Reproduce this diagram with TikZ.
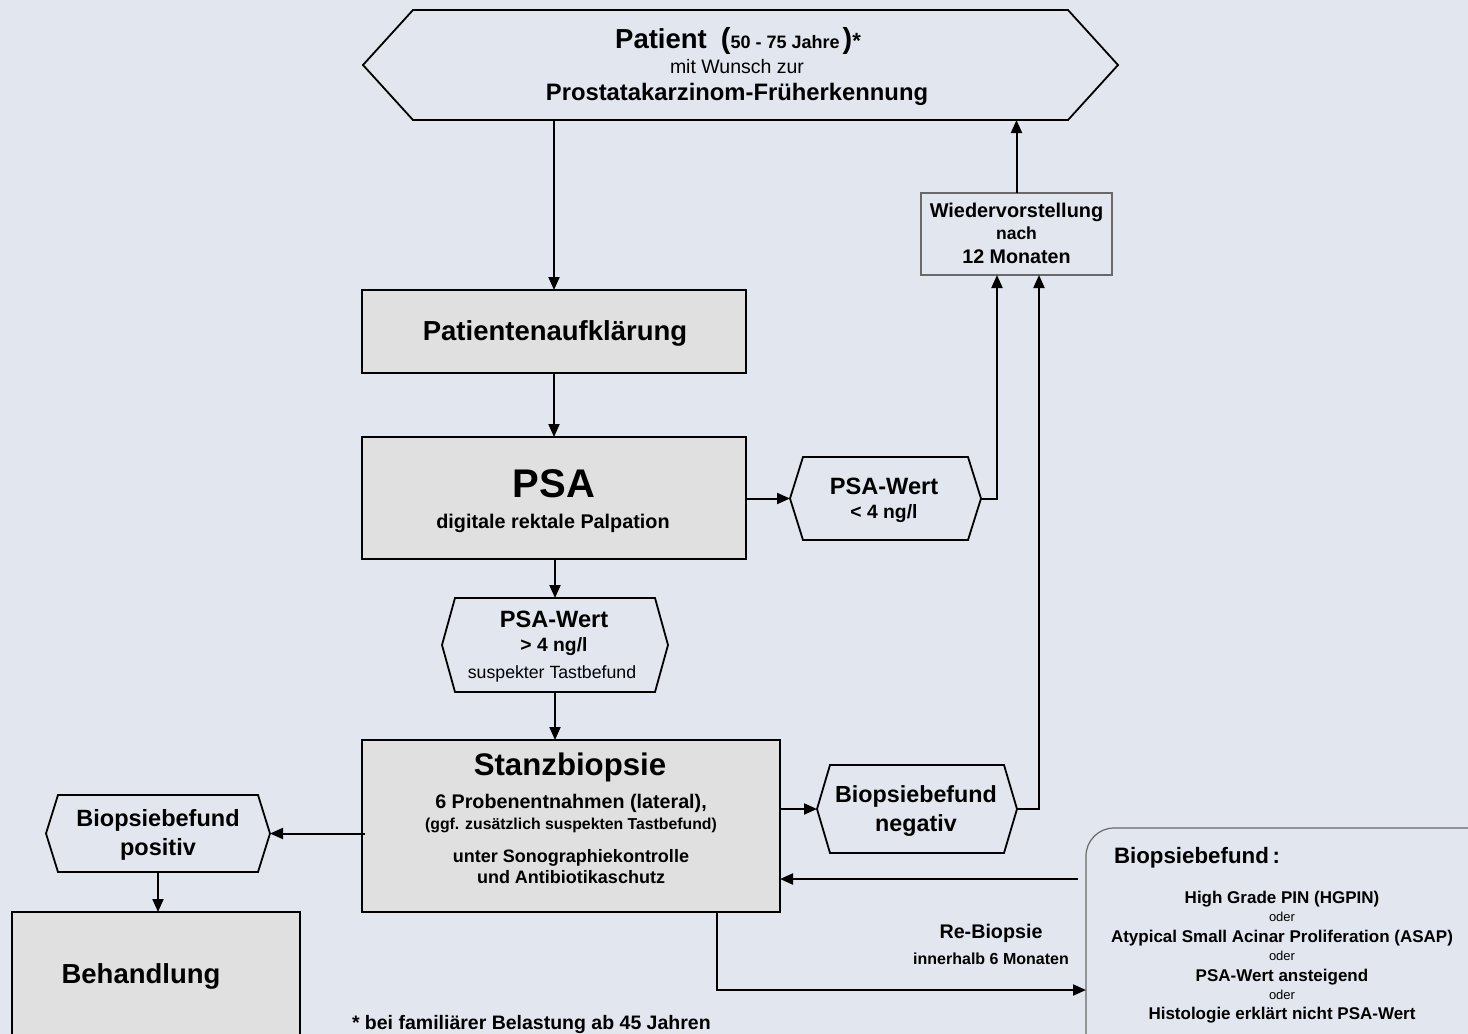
\documentclass[tikz,border=0pt]{standalone}
\usepackage{fontspec}
\setmainfont{Liberation Sans}
\usetikzlibrary{arrows.meta,calc}
\definecolor{bg}{RGB}{225,230,239}
\definecolor{boxfill}{RGB}{224,224,224}
\definecolor{frame}{RGB}{105,105,105}
\newcommand{\bsz}[1]{\fontsize{#1}{#1}\selectfont\bfseries}
\newcommand{\rsz}[1]{\fontsize{#1}{#1}\selectfont\mdseries}
\newcommand{\hexdraw}[2]{\draw[hexline] (#1.north west) -- (#1.north east) -- ([xshift=#2]#1.east) -- (#1.south east) -- (#1.south west) -- ([xshift=-#2]#1.west) -- cycle;}
\begin{document}
\begin{tikzpicture}[x=1pt,y=-1pt,
  gbox/.style={draw=black,line width=2pt,fill=boxfill,inner sep=0,outer sep=0},
  hexcore/.style={inner sep=0,outer sep=0},
  hexline/.style={draw=black,line width=1.8pt,line join=miter},
  arr/.style={draw=black,line width=2pt,-{Triangle[length=13pt,width=11pt]}},
  txt/.style={inner sep=0,outer sep=0,anchor=base,text=black},
]
\fill[bg] (0,0) rectangle (1468,1034);
\useasboundingbox (0,0) rectangle (1468,1034);

% shapes
\node[hexcore,minimum width=655,minimum height=110] (pat) at (740.5,65) {};
\hexdraw{pat}{50}
\node[gbox,minimum width=384,minimum height=83] (auf) at (554,331.5) {};
\node[gbox,minimum width=384,minimum height=122] (psa) at (554,498) {};
\node[hexcore,minimum width=165,minimum height=83] (lt) at (885.5,498.5) {};
\hexdraw{lt}{13}
\node[draw=frame,line width=1.3pt,inner sep=0,outer sep=0,minimum width=191,minimum height=82] (wv) at (1016.5,234) {};
\node[hexcore,minimum width=200,minimum height=94] (gt) at (555,645) {};
\hexdraw{gt}{13}
\node[gbox,minimum width=418,minimum height=172] (sb) at (571,826) {};
\node[hexcore,minimum width=174,minimum height=88] (neg) at (917,809) {};
\hexdraw{neg}{13}
\node[hexcore,minimum width=200,minimum height=77] (pos) at (158,833.5) {};
\hexdraw{pos}{12}
\node[gbox,minimum width=288,minimum height=150,anchor=north west] (beh) at (12,912) {};
\node[draw=frame,line width=1.2pt,rounded corners=28pt,inner sep=0,outer sep=0,minimum width=430,minimum height=250,anchor=north west] (rb) at (1086,828) {};

% texts
\node[txt] (pat1) at (738,48) {\bsz{27.5}Patient\hspace{14pt}\bsz{29}(\bsz{18}50 - 75 Jahre\hspace{3pt}\bsz{29})\bsz{22}*};
\node[txt] (pat2) at (737,73) {\rsz{19.5}mit Wunsch zur};
\node[txt] (pat3) at (737,100) {\bsz{23.8}Prostatakarzinom-Früherkennung};
\node[txt] (auft) at (555,340) {\bsz{27.5}Patientenaufklärung};
\node[txt] (psa1) at (554,497) {\bsz{40}PSA};
\node[txt] (psa2) at (553,528) {\bsz{19.8}digitale rektale Palpation};
\node[txt] (lt1) at (884,494) {\bsz{23.6}PSA-Wert};
\node[txt] (lt2) at (884,518) {\bsz{19.3}< 4 ng/l};
\node[txt] (wv1) at (1016.5,217) {\bsz{19.9}Wiedervorstellung};
\node[txt] (wv2) at (1016.5,239) {\bsz{17.5}nach};
\node[txt] (wv3) at (1016.5,263) {\bsz{19.7}12 Monaten};
\node[txt] (gt1) at (554,627) {\bsz{23.6}PSA-Wert};
\node[txt] (gt2) at (554,651) {\bsz{19.3}> 4 ng/l};
\node[txt] (gt3) at (552,678) {\rsz{17.7}suspekter Tastbefund};
\node[txt] (sb1) at (570,775) {\bsz{31.2}Stanzbiopsie};
\node[txt] (sb2) at (571,808) {\bsz{19.7}6 Probenentnahmen (lateral),};
\node[txt] (sb3) at (571,829) {\bsz{15.8}(ggf. zusätzlich suspekten Tastbefund)};
\node[txt] (sb4) at (571,862) {\bsz{18}unter Sonographiekontrolle};
\node[txt] (sb5) at (571,883) {\bsz{18}und Antibiotikaschutz};
\node[txt] (neg1) at (916,802) {\bsz{23.3}Biopsiebefund};
\node[txt] (neg2) at (916,831) {\bsz{23.3}negativ};
\node[txt] (pos1) at (158,826) {\bsz{23.5}Biopsiebefund};
\node[txt] (pos2) at (158,855) {\bsz{23.5}positiv};
\node[txt] (beht) at (141,983) {\bsz{27.5}Behandlung};
\node[txt] (rb0) at (1197,863) {\bsz{22.3}Biopsiebefund\,:};
\node[txt] (rb1) at (1282,903) {\bsz{17}High Grade PIN (HGPIN)};
\node[txt] (rb2) at (1282,921) {\rsz{13}oder};
\node[txt] (rb3) at (1282,942) {\bsz{17}Atypical Small Acinar Proliferation (ASAP)};
\node[txt] (rb4) at (1282,960) {\rsz{13}oder};
\node[txt] (rb5) at (1282,981) {\bsz{17}PSA-Wert ansteigend};
\node[txt] (rb6) at (1282,999) {\rsz{13}oder};
\node[txt] (rb7) at (1282,1019) {\bsz{17}Histologie erklärt nicht PSA-Wert};
\node[txt] (reb1) at (991,938) {\bsz{19.7}Re-Biopsie};
\node[txt] (reb2) at (991,964) {\bsz{16}innerhalb 6 Monaten};
\node[txt,anchor=base west] (foot) at (352,1029) {\bsz{19.5}* bei familiärer Belastung ab 45 Jahren};

% connectors
\coordinate (c1) at (1078,879);
\coordinate (c2) at (717,990);
\draw[arr] (pat.south -| auf.north) -- (auf.north);
\draw[arr] (auf.south) -- (psa.north);
\draw[arr] (psa.east |- lt.west) -- ([xshift=-13]lt.west);
\draw[arr] ([xshift=13]lt.east) -| ([xshift=-19.5]wv.south);
\draw[arr] (wv.north) -- (wv.north |- pat.south);
\draw[arr] (psa.south -| gt.north) -- (gt.north);
\draw[arr] (gt.south) -- (gt.south |- sb.north);
\draw[arr] (sb.east |- neg.west) -- ([xshift=-13]neg.west);
\draw[arr] ([xshift=13]neg.east) -| ([xshift=22.5]wv.south);
\draw[arr] ([xshift=3]sb.west |- pos.east) -- ([xshift=12]pos.east);
\draw[arr] (pos.south) -- (pos.south |- beh.north);
\draw[arr] (c1) -- (c1 -| sb.east);
\draw[arr] (c2 |- sb.south) -- (c2) -- (c2 -| rb.west);
\end{tikzpicture}
\end{document}
